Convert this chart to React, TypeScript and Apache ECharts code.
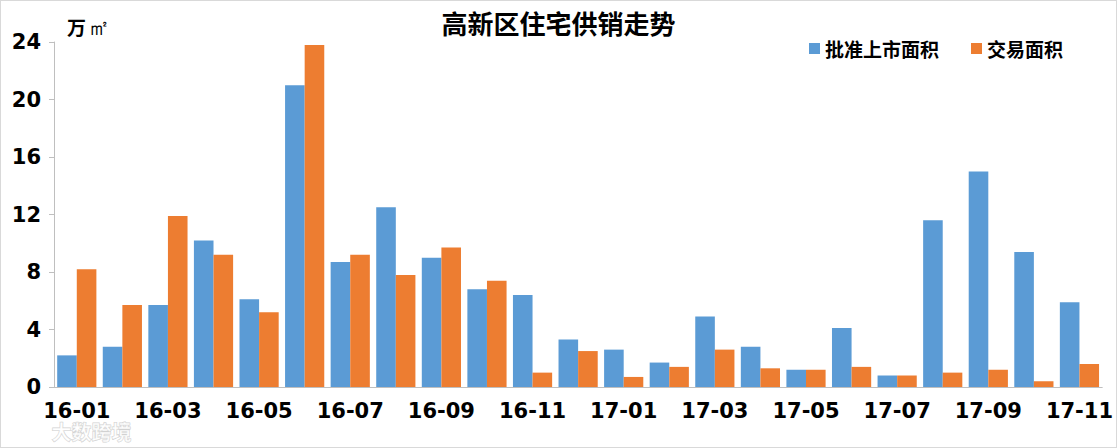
import React, { useEffect, useRef } from "react";
import * as echarts from "echarts";

const categories = [
  "16-01", "16-02", "16-03", "16-04", "16-05", "16-06", "16-07", "16-08", "16-09", "16-10", "16-11", "16-12",
  "17-01", "17-02", "17-03", "17-04", "17-05", "17-06", "17-07", "17-08", "17-09", "17-10", "17-11",
];
const approvedArea = [2.2, 2.8, 5.7, 10.2, 6.1, 21.0, 8.7, 12.5, 9.0, 6.8, 6.4, 3.3, 2.6, 1.7, 4.9, 2.8, 1.2, 4.1, 0.8, 11.6, 15.0, 9.4, 5.9];
const tradedArea = [8.2, 5.7, 11.9, 9.2, 5.2, 23.8, 9.2, 7.8, 9.7, 7.4, 1.0, 2.5, 0.7, 1.4, 2.6, 1.3, 1.2, 1.4, 0.8, 1.0, 1.2, 0.4, 1.6];
const seriesNames = ["批准上市面积", "交易面积"];
const titleText = "高新区住宅供销走势";

const FONT = "'DejaVu Sans', 'Noto Sans CJK SC', sans-serif";

export default function App() {
  const ref = useRef<HTMLDivElement>(null);
  useEffect(() => {
    if (!ref.current) return;
    const chart = echarts.init(ref.current, undefined, { renderer: "svg" });
    chart.setOption({
      animation: false,
      backgroundColor: "#ffffff",
      title: {
        text: titleText,
        left: "center",
        top: 3,
        textStyle: { fontFamily: "'Noto Sans CJK SC', sans-serif", fontSize: 26, fontWeight: "bold", color: "#000" },
      },
      legend: {
        data: seriesNames,
        right: 48,
        top: 33,
        itemWidth: 11,
        itemHeight: 11,
        itemGap: 32,
        icon: "rect",
        textStyle: { fontFamily: "'Noto Sans CJK SC', sans-serif", fontSize: 19, fontWeight: "bold", color: "#000" },
      },
      graphic: [
        {
          type: "text",
          left: 66,
          top: 16,
          style: { text: "万", font: "bold 19px 'Noto Sans CJK SC'", fill: "#000" },
        },
        {
          type: "text",
          left: 87,
          top: 15,
          style: { text: "㎡", font: "22px 'Liberation Serif', serif", fill: "#000" },
        },
        {
          type: "text",
          left: 50,
          top: 420,
          style: { text: "大数跨境", font: "bold 20px 'Noto Sans CJK SC'", fill: "rgba(255,255,255,0.6)", stroke: "rgba(150,150,150,0.45)", lineWidth: 1 },
        },
      ],
      grid: { left: 53, right: 12, top: 41, bottom: 60, containLabel: false },
      xAxis: {
        type: "category",
        data: categories,
        axisLine: { lineStyle: { color: "#bfbfbf", width: 1 } },
        axisTick: { show: false },
        axisLabel: {
          interval: 1,
          margin: 13,
          fontFamily: FONT,
          fontSize: 21,
          fontWeight: "bold",
          color: "#000",
        },
      },
      yAxis: {
        type: "value",
        min: 0,
        max: 24,
        interval: 4,
        splitLine: { show: false },
        axisLine: { show: true, lineStyle: { color: "#bfbfbf", width: 1 } },
        axisTick: { show: true, inside: false, length: 5, lineStyle: { color: "#bfbfbf" } },
        axisLabel: { fontFamily: FONT, fontSize: 21, fontWeight: "bold", color: "#000", margin: 13 },
      },
      series: [
        {
          name: seriesNames[0],
          type: "bar",
          data: approvedArea,
          barGap: "0%",
          barCategoryGap: "14%",
          itemStyle: { color: "#5B9BD5" },
        },
        {
          name: seriesNames[1],
          type: "bar",
          data: tradedArea,
          barGap: "0%",
          barCategoryGap: "14%",
          itemStyle: { color: "#ED7D31" },
        },
      ],
    });
    return () => chart.dispose();
  }, []);
  return (
    <div
      ref={ref}
      style={{
        position: "absolute",
        left: 0,
        top: 0,
        width: 1117,
        height: 448,
        boxSizing: "border-box",
        border: "1px solid #d9d9d9",
      }}
    />
  );
}
